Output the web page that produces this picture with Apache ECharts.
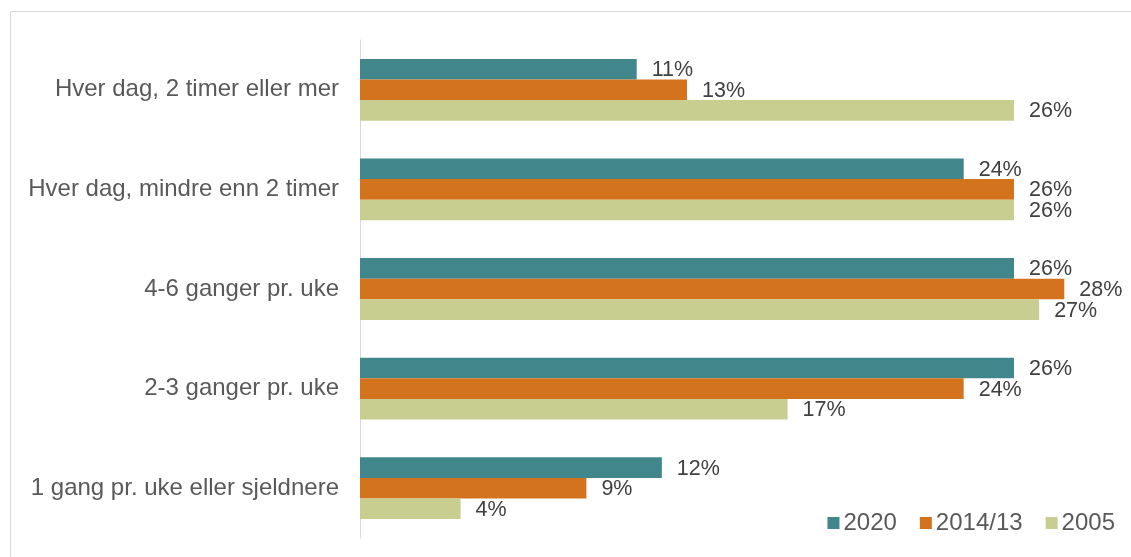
<!DOCTYPE html>
<html>
<head>
<meta charset="utf-8">
<script src="https://cdn.jsdelivr.net/npm/echarts@6/dist/echarts.min.js"></script>
<style>
html,body{margin:0;padding:0;background:#fff;}
#chart{width:1131px;height:557px;}
</style>
</head>
<body>
<div id="chart"></div>
<script>
const categories = [
  "Hver dag, 2 timer eller mer",
  "Hver dag, mindre enn 2 timer",
  "4-6 ganger pr. uke",
  "2-3 ganger pr. uke",
  "1 gang pr. uke eller sjeldnere"
];
const seriesNames = ["2020", "2014/13", "2005"];
const values2020 = [11, 24, 26, 26, 12];
const values2014 = [13, 26, 28, 24, 9];
const values2005 = [26, 26, 27, 17, 4];
const colors = ["#40868A", "#D4731E", "#C8CD90"];

const font = "'Liberation Sans', Arial, sans-serif";
const chart = echarts.init(document.getElementById('chart'));

function makeSeries(name, data, color) {
  return {
    name: name,
    type: 'bar',
    data: data,
    barGap: '0%',
    barCategoryGap: '38%',
    itemStyle: { color: color },
    label: {
      show: true,
      position: 'right',
      distance: 15,
      offset: [0, 1],
      formatter: p => p.value + '%',
      color: '#404040',
      fontSize: 21.5,
      fontFamily: font
    },
    silent: true
  };
}

chart.setOption({
  animation: false,
  backgroundColor: '#fff',
  graphic: [{
    type: 'rect',
    shape: { x: 10.5, y: 11.5, width: 1300, height: 700 },
    style: { fill: 'none', stroke: '#D9D9D9', lineWidth: 1 },
    silent: true
  }],
  grid: { left: 360, right: 16.4, top: 40, bottom: 19, containLabel: false },
  xAxis: {
    type: 'value', min: 0, max: 30,
    show: false
  },
  yAxis: {
    type: 'category',
    data: categories,
    inverse: true,
    axisLine: { show: true, lineStyle: { color: '#D9D9D9', width: 1 } },
    axisTick: { show: false },
    axisLabel: { color: '#595959', fontSize: 24, fontFamily: font, margin: 21 }
  },
  legend: {
    data: seriesNames,
    right: 16,
    top: 511,
    padding: 0,
    itemWidth: 12,
    itemHeight: 12,
    itemGap: 23,
    icon: 'rect',
    textStyle: { color: '#595959', fontSize: 24, fontFamily: font, padding: [0, 0, 0, -1] }
  },
  series: [
    makeSeries(seriesNames[0], values2020, colors[0]),
    makeSeries(seriesNames[1], values2014, colors[1]),
    makeSeries(seriesNames[2], values2005, colors[2])
  ]
});
</script>
</body>
</html>
